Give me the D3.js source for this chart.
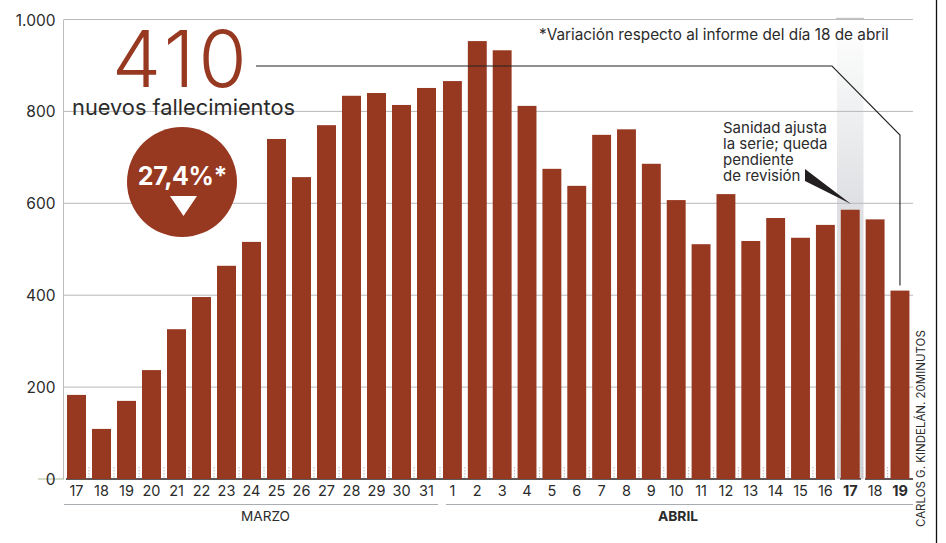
<!DOCTYPE html>
<html>
<head>
<meta charset="utf-8">
<script src="https://cdnjs.cloudflare.com/ajax/libs/d3/7.8.5/d3.min.js"></script>
<style>
    html, body { margin: 0; padding: 0; background: #fff; }
    svg { display: block; font-family: Inter, Roboto, sans-serif; }
</style>
</head>
<body>
<svg id="chart" width="946" height="543"></svg>
<script>
const diasMarzo = [17, 18, 19, 20, 21, 22, 23, 24, 25, 26, 27, 28, 29, 30, 31];
const diasAbril = [1, 2, 3, 4, 5, 6, 7, 8, 9, 10, 11, 12, 13, 14, 15, 16, 17, 18, 19];
const fallecidosMarzo = [183, 109, 170, 237, 326, 396, 464, 516, 740, 657, 770, 834, 840, 814, 851];
const fallecidosAbril = [866, 953, 933, 812, 675, 638, 749, 761, 686, 607, 511, 620, 518, 568, 525, 553, 586, 565, 410];
const yTicks = [0, 200, 400, 600, 800, 1000];
const yLabels = ['0', '200', '400', '600', '800', '1.000'];
const destacados = [17, 19];

const rojo = '#973821';
const texto = '#2b2b2b';
const svg = d3.select('#chart');

const xMarzo = d3.scaleBand()
    .domain(diasMarzo)
    .range([64, 439])
    .paddingInner(0.24)
    .paddingOuter(0.12);
const xAbril = d3.scaleBand()
    .domain(diasAbril)
    .range([440, 912.4])
    .paddingInner(0.24)
    .paddingOuter(0.12);
const y = d3.scaleLinear().domain([0, 1000]).range([479, 19.5]);

const marzo = diasMarzo.map((d, i) => ({dia: d, valor: fallecidosMarzo[i], x: xMarzo(d), ancho: xMarzo.bandwidth(), paso: xMarzo.step(), negrita: false}));
const abril = diasAbril.map((d, i) => ({dia: d, valor: fallecidosAbril[i], x: xAbril(d), ancho: xAbril.bandwidth(), paso: xAbril.step(), negrita: destacados.includes(d)}));
const todos = marzo.concat(abril);

// franja gris del dia 17 de abril
const grad = svg.append('defs').append('linearGradient')
    .attr('id', 'franja').attr('x1', 0).attr('x2', 0).attr('y1', 0).attr('y2', 1);
grad.append('stop').attr('offset', '0').attr('stop-color', '#ffffff');
grad.append('stop').attr('offset', '0.2').attr('stop-color', '#eff0f1');
grad.append('stop').attr('offset', '0.4').attr('stop-color', '#dfe0e3');
grad.append('stop').attr('offset', '1').attr('stop-color', '#d0d2d6');

svg.append('rect')
    .attr('x', 837).attr('width', 26.5)
    .attr('y', y(1000)).attr('height', y(0) - y(1000))
    .attr('fill', 'url(#franja)');
svg.append('line')
    .attr('x1', 836).attr('x2', 864)
    .attr('y1', y(1000) - 1).attr('y2', y(1000) - 1)
    .attr('stroke', '#c4c6ca').attr('stroke-width', 1.5);

// rejilla
svg.selectAll('.grid')
    .data(yTicks.filter(d => d > 0))
    .enter()
    .append('line')
    .attr('class', 'grid')
    .attr('x1', 64).attr('x2', 913)
    .attr('y1', d => y(d)).attr('y2', d => y(d))
    .attr('stroke', '#b8b8b8').attr('stroke-width', 1);

svg.append('line')
    .attr('x1', 63.5).attr('x2', 63.5)
    .attr('y1', y(1000)).attr('y2', y(0))
    .attr('stroke', '#bdbdbd').attr('stroke-width', 1);
svg.append('line')
    .attr('x1', 38).attr('x2', 64)
    .attr('y1', y(0)).attr('y2', y(0))
    .attr('stroke', '#a9bb98').attr('stroke-width', 1);

svg.selectAll('.ylab')
    .data(yTicks)
    .enter()
    .append('text')
    .attr('class', 'ylab')
    .attr('x', 55.5)
    .attr('y', d => y(d) + 6)
    .attr('text-anchor', 'end')
    .attr('font-size', 15.5)
    .attr('fill', texto)
    .text((d, i) => yLabels[i]);

// marcas punteadas entre barras
svg.selectAll('.sep')
    .data(todos.slice(1))
    .enter()
    .append('line')
    .attr('class', 'sep')
    .attr('x1', d => d.x - (d.paso - d.ancho) / 2)
    .attr('x2', d => d.x - (d.paso - d.ancho) / 2)
    .attr('y1', y(0) - 12).attr('y2', y(0))
    .attr('stroke', '#bcbcbc')
    .attr('stroke-width', 1)
    .attr('stroke-dasharray', '1.5 1.5');

// linea base, con hueco junto a la franja
[[66, 835], [865, 913], [840, 861]].forEach(t => {
    svg.append('line')
        .attr('x1', t[0]).attr('x2', t[1])
        .attr('y1', y(0)).attr('y2', y(0))
        .attr('stroke', '#2a2020').attr('stroke-width', 1.3);
});

svg.selectAll('.bar')
    .data(todos)
    .enter()
    .append('rect')
    .attr('class', 'bar')
    .attr('x', d => d.x)
    .attr('width', d => d.ancho)
    .attr('y', d => y(d.valor))
    .attr('height', d => y(0) - y(d.valor))
    .attr('fill', rojo);

svg.selectAll('.dia')
    .data(todos)
    .enter()
    .append('text')
    .attr('class', 'dia')
    .attr('x', d => d.x + d.ancho / 2)
    .attr('y', 496)
    .attr('text-anchor', 'middle')
    .attr('font-size', 14.5)
    .attr('font-weight', d => d.negrita ? 700 : 400)
    .attr('fill', texto)
    .text(d => d.dia);

// meses
svg.append('line')
    .attr('x1', 64).attr('x2', 438)
    .attr('y1', 504.5).attr('y2', 504.5)
    .attr('stroke', '#a8adb2').attr('stroke-width', 1);
svg.append('line')
    .attr('x1', 446).attr('x2', 913)
    .attr('y1', 504.5).attr('y2', 504.5)
    .attr('stroke', '#a8adb2').attr('stroke-width', 1);
svg.append('text')
    .attr('x', 265.5).attr('y', 521)
    .attr('text-anchor', 'middle')
    .attr('font-size', 13.6)
    .attr('fill', texto)
    .text('MARZO');
svg.append('text')
    .attr('x', 678).attr('y', 521)
    .attr('text-anchor', 'middle')
    .attr('font-size', 13.8)
    .attr('font-weight', 700)
    .attr('fill', texto)
    .text('ABRIL');

// conector del dato de hoy
const ultimo = abril[abril.length - 1];
const xUltimo = ultimo.x + ultimo.ancho / 2;
svg.append('path')
    .attr('d', d3.line()([[256, 66], [832, 66], [xUltimo, 135], [xUltimo, y(ultimo.valor) - 5]]))
    .attr('fill', 'none')
    .attr('stroke', '#222')
    .attr('stroke-width', 1.1);

svg.append('text')
    .attr('x', 112).attr('y', 87)
    .attr('font-size', 78)
    .attr('font-weight', 300)
    .attr('letter-spacing', 4)
    .attr('fill', rojo)
    .text(ultimo.valor);
svg.append('text')
    .attr('x', 72).attr('y', 115)
    .attr('font-size', 21.8)
    .attr('fill', texto)
    .text('nuevos fallecimientos');

// circulo de variacion
svg.append('circle')
    .attr('cx', 182).attr('cy', 182).attr('r', 55)
    .attr('fill', rojo);
svg.append('text')
    .attr('x', 182.5).attr('y', 185)
    .attr('text-anchor', 'middle')
    .attr('font-size', 25)
    .attr('font-weight', 700)
    .attr('letter-spacing', -0.4)
    .attr('fill', '#fff')
    .text('27,4%*');
svg.append('path')
    .attr('d', d3.line()([[170, 196], [197, 196], [183.5, 216]]) + 'Z')
    .attr('fill', '#fff');

svg.append('text')
    .attr('x', 539).attr('y', 40)
    .attr('font-size', 15.3)
    .attr('fill', texto)
    .text('*Variación respecto al informe del día 18 de abril');

const nota = ['Sanidad ajusta', 'la serie; queda', 'pendiente', 'de revisión'];
svg.selectAll('.nota')
    .data(nota)
    .enter()
    .append('text')
    .attr('class', 'nota')
    .attr('x', 723)
    .attr('y', (d, i) => 133 + i * 15.9)
    .attr('font-size', 15)
    .attr('fill', texto)
    .text(d => d);
svg.append('path')
    .attr('d', d3.line()([[805, 169], [805, 181], [851, 204]]) + 'Z')
    .attr('fill', '#231f20');

svg.append('text')
    .attr('transform', 'translate(925,527) rotate(-90)')
    .attr('font-size', 11.5)
    .attr('fill', texto)
    .text('CARLOS G. KINDELÁN. 20MINUTOS');

svg.append('line')
    .attr('x1', 936.5).attr('x2', 936.5)
    .attr('y1', 0).attr('y2', 543)
    .attr('stroke', '#111').attr('stroke-width', 1.3);
</script>
</body>
</html>
